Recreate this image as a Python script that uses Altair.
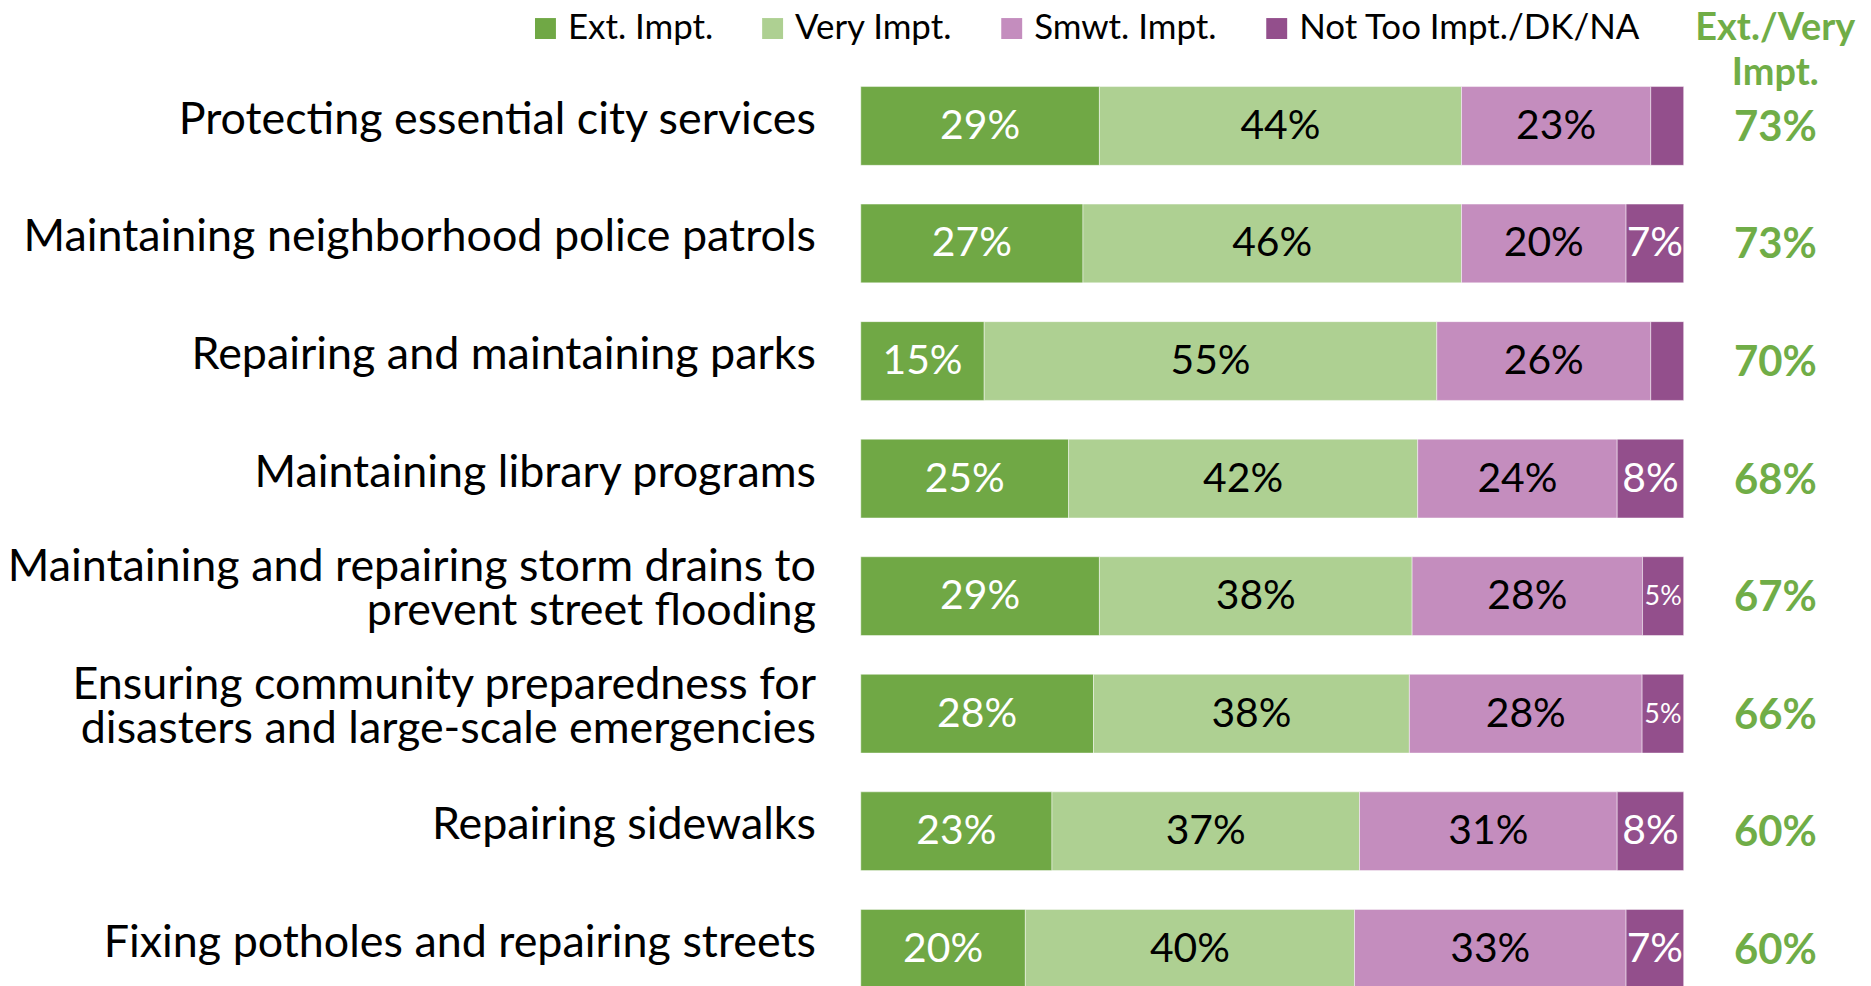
import altair as alt
import pandas as pd

categories = [
    "Protecting essential city services",
    "Maintaining neighborhood police patrols",
    "Repairing and maintaining parks",
    "Maintaining library programs",
    "Maintaining and repairing storm drains to\nprevent street flooding",
    "Ensuring community preparedness for\ndisasters and large-scale emergencies",
    "Repairing sidewalks",
    "Fixing potholes and repairing streets",
]
segments = ["Ext. Impt.", "Very Impt.", "Smwt. Impt.", "Not Too Impt./DK/NA"]
ext = [29, 27, 15, 25, 29, 28, 23, 20]
very = [44, 46, 55, 42, 38, 38, 37, 40]
smwt = [23, 20, 26, 24, 28, 28, 31, 33]
notoo = [4, 7, 4, 8, 5, 5, 8, 7]
totals = [73, 73, 70, 68, 67, 66, 60, 60]
header = "Ext./Very\nImpt."

colors = ["#70A845", "#AED092", "#C48DBE", "#934F8C"]
text_colors = ["white", "black", "black", "white"]
green = "#70AD47"
FONT = "Lato"

rows = []
for i, cat in enumerate(categories):
    vals = [ext[i], very[i], smwt[i], notoo[i]]
    tot = sum(vals)
    cum = 0.0
    for j, seg in enumerate(segments):
        start = cum / tot * 100
        cum += vals[j]
        end = cum / tot * 100
        show = vals[j] >= 5
        rows.append({
            "category": cat, "segment": seg, "value": vals[j],
            "start": start, "end": end, "mid": (start + end) / 2,
            "label": f"{vals[j]}%" if show else "",
            "tcolor": text_colors[j],
            "fs": 27 if vals[j] <= 5 else 41,
        })
df = pd.DataFrame(rows)
cat_df = pd.DataFrame({"category": categories,
                       "total": [f"{t}%" for t in totals]})
head_df = pd.DataFrame({"h": [header]})

W = 826
y_enc = alt.Y("category:N", sort=categories, axis=None,
              scale=alt.Scale(paddingInner=0.33, paddingOuter=0))

bars = alt.Chart(df).mark_bar(stroke="white", strokeWidth=1, strokeOpacity=0.45).encode(
    x=alt.X("start:Q", scale=alt.Scale(domain=[0, 100], nice=False, zero=False), axis=None),
    x2="end:Q",
    y=y_enc,
    color=alt.Color("segment:N", scale=alt.Scale(domain=segments, range=colors),
                    legend=alt.Legend(title=None, orient="none", direction="horizontal",
                                      columns=4, legendX=-334, legendY=-76,
                                      symbolType="square", symbolSize=441,
                                      symbolStrokeWidth=0, symbolOpacity=1,
                                      labelFont=FONT, labelFontSize=35, labelColor="black",
                                      labelOffset=5, columnPadding=42, padding=0,
                                      labelLimit=500)),
)

seg_text = alt.Chart(df).transform_filter("datum.label != ''").mark_text(
    font=FONT, baseline="middle", align="center", dy=1
).encode(
    x="mid:Q", y=y_enc, text="label:N",
    color=alt.Color("tcolor:N", scale=None),
    size=alt.Size("fs:Q", scale=None),
)

cat_one = alt.Chart(cat_df).transform_filter(
    "indexof(datum.category, '\\n') < 0"
).mark_text(
    font=FONT, fontSize=45, align="right", baseline="middle",
    dy=-6, color="black"
).encode(y=y_enc, x=alt.value(-45), text="category:N")

cat_two = alt.Chart(cat_df).transform_filter(
    "indexof(datum.category, '\\n') >= 0"
).mark_text(
    font=FONT, fontSize=45, align="right", baseline="middle",
    lineBreak="\n", lineHeight=44, dy=-29, color="black"
).encode(y=y_enc, x=alt.value(-45), text="category:N")

tot_text = alt.Chart(cat_df).mark_text(
    font=FONT, fontSize=42, fontWeight="bold", align="center", baseline="middle",
    color=green, dy=2
).encode(y=y_enc, x=alt.value(918), text="total:N")

head_text = alt.Chart(head_df).mark_text(
    font=FONT, fontSize=38, fontWeight="bold", align="center", baseline="alphabetic",
    lineBreak="\n", lineHeight=45, color=green
).encode(x=alt.value(918), y=alt.value(-47), text="h:N")

chart = alt.layer(bars, seg_text, cat_one, cat_two, tot_text, head_text).properties(
    width=W, height=905,
    autosize=alt.AutoSizeParams(type="none"),
    padding={"left": 856, "top": 77, "right": 180, "bottom": 0},
).configure_view(stroke=None)

chart.save("out.html", embed_options={"renderer": "svg", "actions": False})
